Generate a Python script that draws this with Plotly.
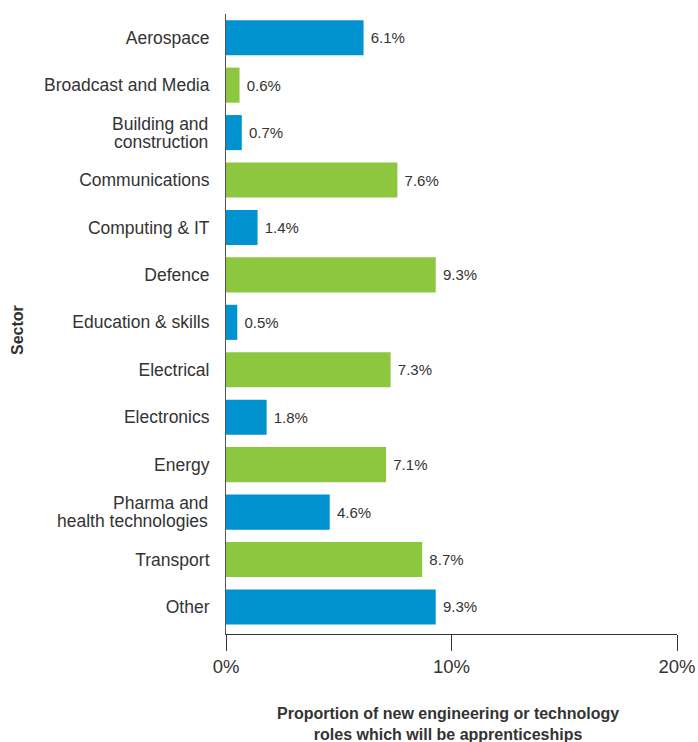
import plotly.graph_objects as go

sectors = [
    "Aerospace", "Broadcast and Media", "Building and<br>construction",
    "Communications", "Computing & IT", "Defence", "Education & skills",
    "Electrical", "Electronics", "Energy",
    "Pharma and<br>health technologies", "Transport", "Other",
]
shares = [6.1, 0.6, 0.7, 7.6, 1.4, 9.3, 0.5, 7.3, 1.8, 7.1, 4.6, 8.7, 9.3]
x_ticks = [0, 10, 20]
x_tick_labels = ["0%", "10%", "20%"]

BLUE = "#0093d0"
GREEN = "#8dc63f"
bar_colors = [BLUE if i % 2 == 0 else GREEN for i in range(len(sectors))]

BOLD_FONT = "Liberation Sans Narrow, Liberation Sans, Arial, sans-serif"
TEXT = "#333333"
LABEL_SIZE = 17.5

# Plot-area geometry in pixels
W, H = 698, 742
ML, MR, MT, MB = 226, 21, 14, 108
plot_w = W - ML - MR
plot_h = H - MT - MB

positions = list(range(len(sectors)))

fig = go.Figure(
    go.Bar(
        x=shares,
        y=positions,
        orientation="h",
        marker=dict(color=bar_colors, line=dict(width=0)),
        width=0.74,
        text=[f" {v:.1f}%" for v in shares],
        textposition="outside",
        cliponaxis=False,
        textfont=dict(family="Liberation Sans, Arial, sans-serif", size=15, color=TEXT),
        hoverinfo="skip",
    )
)

# Single-line sector names go on the axis; two-line names are set as
# separate lines so their line spacing can stay tight.
tick_text = [s if "<br>" not in s else "" for s in sectors]
annotations = []
for pos, name in zip(positions, sectors):
    if "<br>" in name:
        lines = name.split("<br>")
        for k, line in enumerate(lines):
            annotations.append(dict(
                text=line, xref="paper", yref="y",
                x=-16 / plot_w, y=pos, xanchor="right", yanchor="middle",
                yshift=9 - 18 * k, showarrow=False,
                font=dict(size=LABEL_SIZE, color=TEXT),
            ))

annotations.append(dict(
    text="<b>Proportion of new engineering or technology<br>roles which will be apprenticeships</b>",
    xref="paper", yref="paper",
    x=(448 - ML) / plot_w, y=-(724 - (H - MB)) / plot_h,
    xanchor="center", yanchor="middle",
    showarrow=False,
    font=dict(family=BOLD_FONT, size=16, color=TEXT),
))
annotations.append(dict(
    text="<b>Sector</b>",
    xref="paper", yref="paper",
    x=-(ML - 17) / plot_w, y=((H - MB) - 330) / plot_h,
    xanchor="center", yanchor="middle",
    textangle=-90,
    showarrow=False,
    font=dict(family=BOLD_FONT, size=16, color=TEXT),
))

fig.update_layout(
    width=W,
    height=H,
    margin=dict(l=ML, r=MR, t=MT, b=MB),
    paper_bgcolor="white",
    plot_bgcolor="white",
    showlegend=False,
    font=dict(family="Liberation Sans, Arial, sans-serif", color=TEXT),
    xaxis=dict(
        range=[0, 20],
        tickvals=x_ticks,
        ticktext=x_tick_labels,
        showgrid=False,
        zeroline=False,
        showline=True,
        linecolor="#333333",
        linewidth=1,
        ticks="outside",
        ticklen=16,
        tickcolor="#333333",
        tickfont=dict(size=18.5, color=TEXT),
        automargin=False,
    ),
    yaxis=dict(
        range=[12.57, -0.5],
        tickvals=positions,
        ticktext=tick_text,
        showgrid=False,
        zeroline=False,
        showline=True,
        linecolor="#555555",
        linewidth=1,
        ticks="",
        ticklabelstandoff=12,
        tickfont=dict(size=LABEL_SIZE, color=TEXT),
        automargin=False,
    ),
    annotations=annotations,
)

fig.write_html("out.html")
